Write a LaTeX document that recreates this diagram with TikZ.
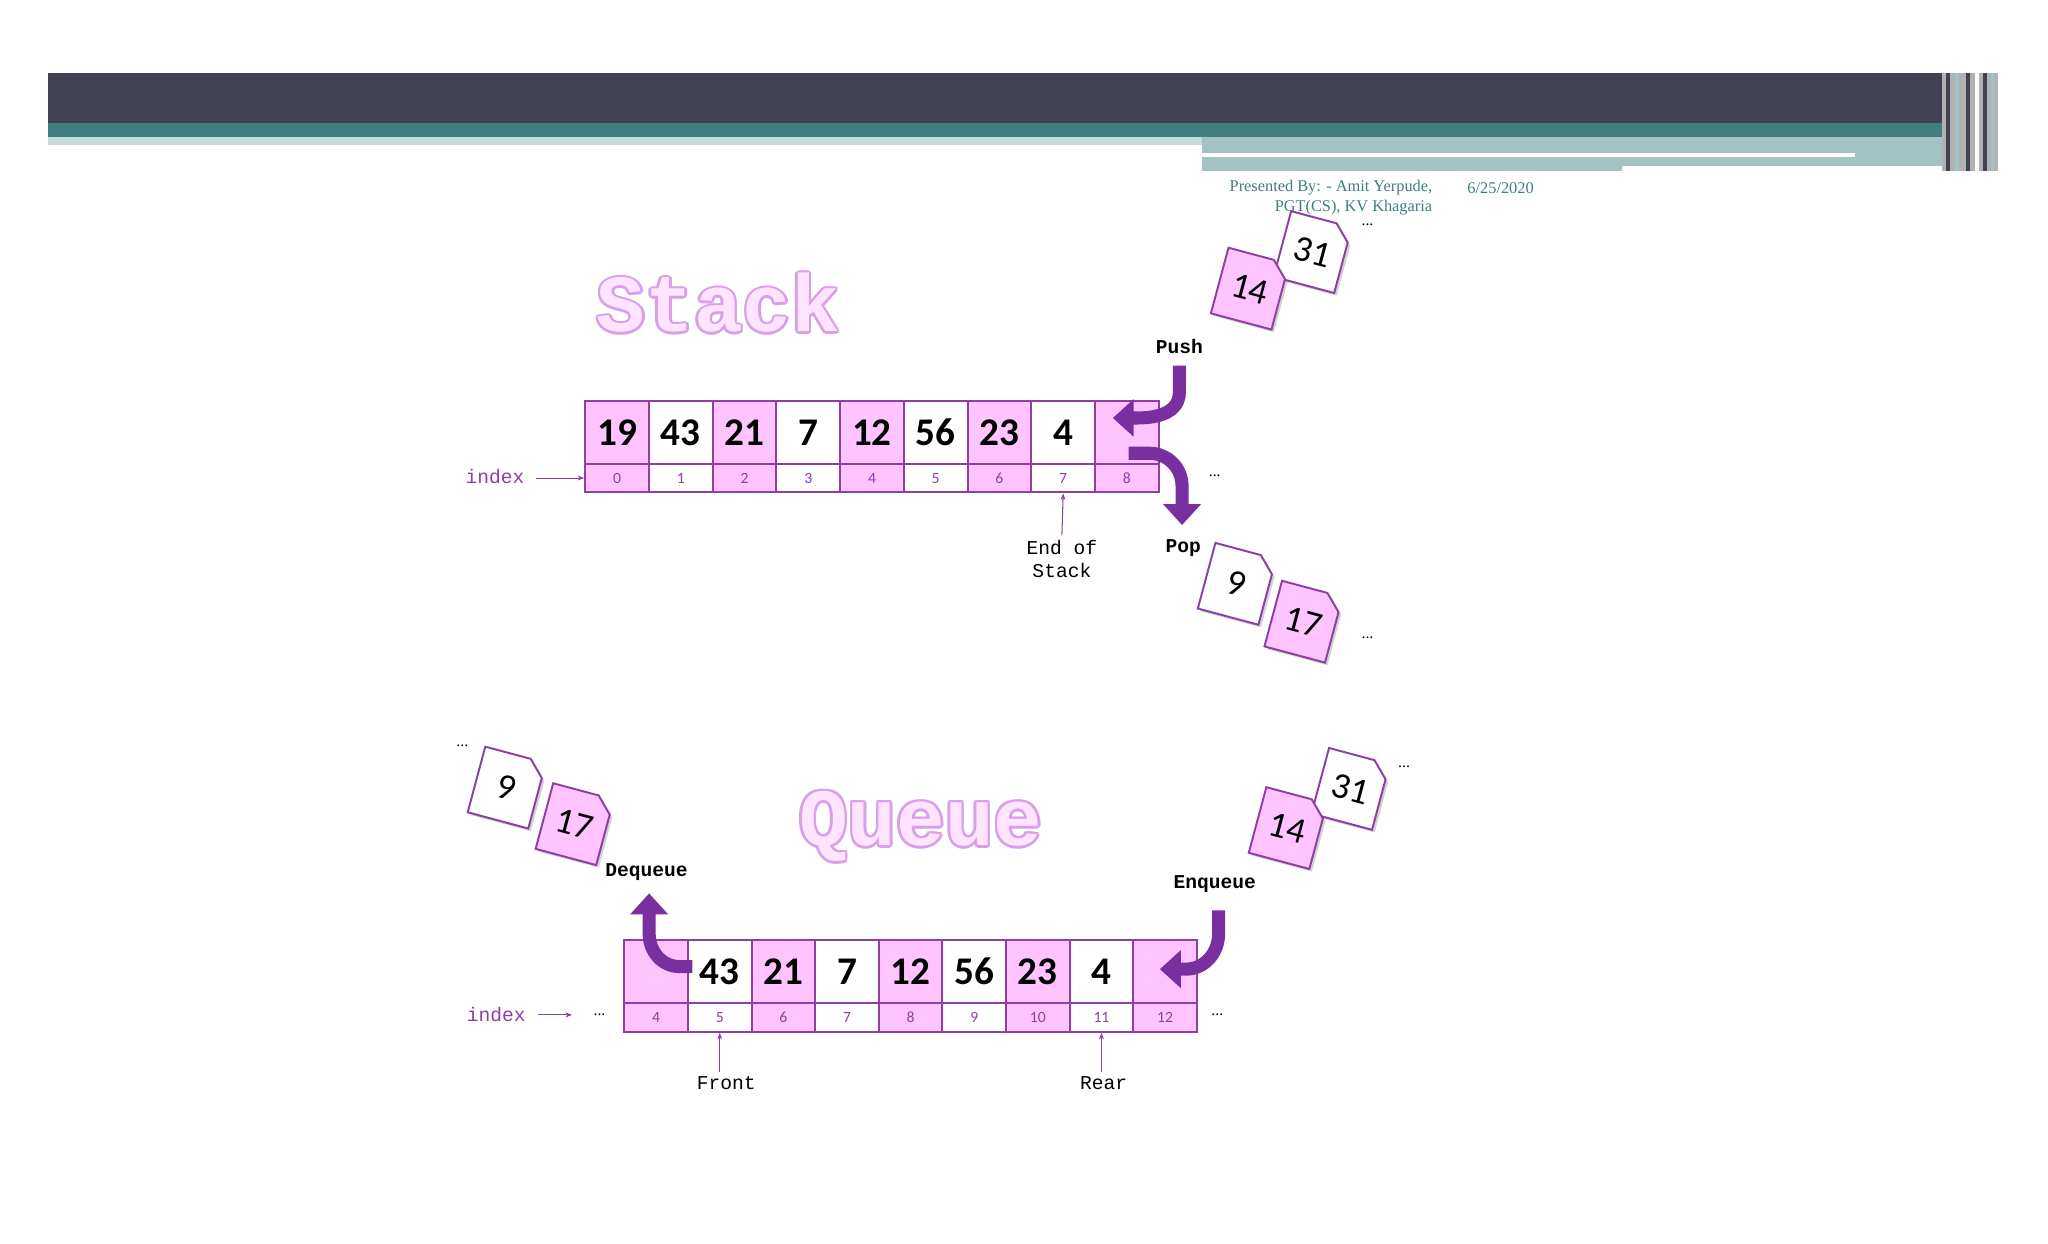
\documentclass[tikz,border=0pt]{standalone}
\usepackage{fontspec}
\setmainfont{Liberation Serif}
\newfontfamily\cellf{Carlito}
\newfontfamily\monof{Liberation Mono}
\usetikzlibrary{shapes.misc,shadows,arrows.meta}
\definecolor{dark}{HTML}{424254}
\definecolor{teal}{HTML}{3F7F80}
\definecolor{lteal}{HTML}{A3C2C3}
\definecolor{pk}{HTML}{FFC4FF}
\definecolor{pu}{HTML}{8E3FA6}
\definecolor{ar}{HTML}{7A2FA0}
\definecolor{glow}{HTML}{D9A0E8}
\begin{document}
\begin{tikzpicture}[x=1pt,y=-1pt,
 cell/.style={draw=pu,line width=1.5pt,minimum width=48.8pt,minimum height=48pt,inner sep=0pt,font=\cellf\bfseries\fontsize{30}{32}\selectfont},
 idx/.style={draw=pu,line width=1.5pt,minimum width=48.8pt,minimum height=22pt,inner sep=0pt,font=\cellf\fontsize{12}{12}\selectfont,text=pu},
 card/.style={draw=pu,line width=1.5pt,chamfered rectangle,chamfered rectangle corners=north east,chamfered rectangle xsep=6pt,chamfered rectangle ysep=6pt,minimum width=48pt,minimum height=52pt,inner sep=0pt,font=\cellf\fontsize{28}{30}\selectfont,drop shadow={shadow xshift=2pt,shadow yshift=-2pt,opacity=.35}},
 lab/.style={font=\monof\fontsize{15}{18}\selectfont},
 blab/.style={font=\monof\bfseries\fontsize{15}{18}\selectfont},
 dots/.style={font=\fontsize{12}{12}\selectfont},
 big/.style={draw=ar,line width=10pt,-{Triangle[length=16pt,width=28pt]}},
 thin/.style={draw=pu,line width=0.8pt,-{Stealth[length=5pt]}},
 titleg/.style={font=\monof\bfseries\fontsize{62}{70}\selectfont,text=glow},
 title/.style={font=\monof\bfseries\fontsize{62}{70}\selectfont,text=pk!45!white}]
\useasboundingbox (0,0) rectangle (1568,952);
\fill[white] (0,0) rectangle (1568,952);
% header
\fill[dark] (37,56) rectangle (1530,94);
\fill[teal] (37,94) rectangle (1490,105);
\fill[lteal!60!white] (37,105) rectangle (920,111);
\fill[lteal] (920,105) rectangle (1500,131);
\fill[white] (920,117) rectangle (1420,120);
\fill[white] (1242,127) rectangle (1500,131);
\fill[gray!60] (1487,56) rectangle (1530,131);
\foreach \xx/\cc in {1490/dark,1497/lteal,1505/dark,1512/white,1518/dark,1524/lteal}
  \fill[\cc] (\xx,56) rectangle ++(3,75);
\node[text=teal,font=\fontsize{12.5}{14}\selectfont,anchor=east] (pres1) at (1100,144) {Presented By: - Amit Yerpude,};
\node[text=teal,font=\fontsize{12.5}{14}\selectfont,anchor=east] (pres2) at (1100,159) {PGT(CS), KV Khagaria};
\node[text=teal,font=\fontsize{12.5}{14}\selectfont,anchor=west] (date) at (1120,144) {6/25/2020};
% Stack
\foreach \dx/\dy in {-2/0,2/0,0/-2,0/2,-1.5/-1.5,1.5/1.5,-1.5/1.5,1.5/-1.5}
  \node[titleg] at (550+\dx,232+\dy) {Stack};
\node[title] (st) at (550,232) {Stack};
\foreach \v [count=\i from 0] in {19,43,21,7,12,56,23,4,{}}{
  \pgfmathsetmacro{\cx}{472.4+48.8*\i}
  \ifodd\i \def\fc{white}\else\def\fc{pk}\fi
  \node[cell,fill=\fc] (s\i) at (\cx,331) {\v};
  \node[idx,fill=\fc] (si\i) at (\cx,366) {\i};
}
\node[lab,text=pu,anchor=east] (sindex) at (405,365) {index};
\coordinate (sia) at (410,366);
\draw[thin] (sia) -- (si0.west);
\node[dots] (sd1) at (930,364) {...};
\node[lab,align=center] (eos) at (813,428) {End of\\Stack};
\draw[thin] (eos.north) -- (si7.south);
\node[blab] (push) at (903,265) {Push};
\node[blab] (pop) at (906,420) {Pop};
\coordinate (pa) at (903,280);
\coordinate (pb) at (852,320);
\draw[big] (pa) -- (903,300) to[out=-90,in=0] (pb);
\coordinate (qa) at (864,347);
\coordinate (qb) at (905,402);
\draw[big] (qa) -- (880,347) to[out=0,in=90] (905,372) -- (qb);
\node[card,fill=white,rotate=-15] (c31) at (1005,193) {31};
\node[card,fill=pk,rotate=-15] (c14) at (957,221) {14};
\node[dots] (sd2) at (1047,172) {...};
\node[card,fill=white,rotate=-15] (c9) at (947,447) {9};
\node[card,fill=pk,rotate=-15] (c17) at (998,476) {17};
\node[dots] (sd3) at (1047,488) {...};
% Queue
\foreach \dx/\dy in {-2/0,2/0,0/-2,0/2,-1.5/-1.5,1.5/1.5,-1.5/1.5,1.5/-1.5}
  \node[titleg] at (705+\dx,633+\dy) {Queue};
\node[title] (qt) at (705,633) {Queue};
\foreach \v [count=\i from 4] in {{},43,21,7,12,56,23,4,{}}{
  \pgfmathsetmacro{\cx}{502.4+48.7*(\i-4)}
  \ifodd\i \def\fc{white}\else\def\fc{pk}\fi
  \node[cell,fill=\fc] (q\i) at (\cx,744) {\v};
  \node[idx,fill=\fc] (qi\i) at (\cx,779) {\i};
}
\node[lab,text=pu,anchor=east] (qindex) at (406,777) {index};
\coordinate (qia) at (412,777);
\coordinate (qib) at (438,777);
\draw[thin] (qia) -- (qib);
\node[dots] (qd1) at (459,777) {...};
\node[dots] (qd2) at (932,777) {...};
\node[lab] (front) at (556,829) {Front};
\node[lab] (rear) at (845,829) {Rear};
\draw[thin] (front.north -| qi5) -- (qi5.south);
\draw[thin] (rear.north -| qi11) -- (qi11.south);
\node[blab] (deq) at (495,668) {Dequeue};
\node[blab] (enq) at (930,677) {Enqueue};
\coordinate (da) at (530,740);
\coordinate (db) at (497,684);
\draw[big] (da) -- (520,740) to[out=180,in=-90] (497,715) -- (db);
\coordinate (ea) at (933,697);
\coordinate (eb) at (888,742);
\draw[big] (ea) -- (933,715) to[out=-90,in=0] (908,742) -- (eb);
\node[card,fill=white,rotate=-15] (d9) at (388,603) {9};
\node[card,fill=pk,rotate=-15] (d17) at (440,631) {17};
\node[dots] (qd3) at (354,571) {...};
\node[card,fill=white,rotate=-15] (e31) at (1034,604) {31};
\node[card,fill=pk,rotate=-15] (e14) at (986,634) {14};
\node[dots] (qd4) at (1075,587) {...};
\end{tikzpicture}
\end{document}
